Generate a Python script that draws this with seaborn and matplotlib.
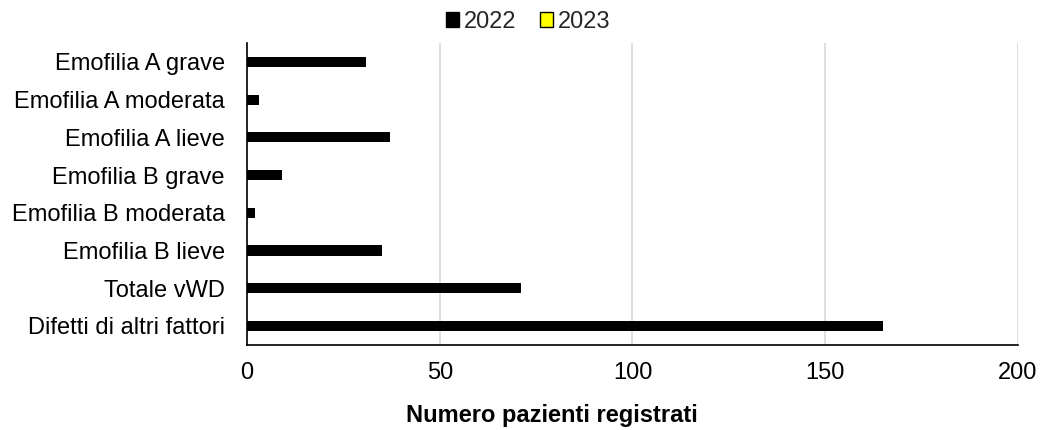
import matplotlib
matplotlib.use('Agg')
from matplotlib import pyplot as plt
from matplotlib.patches import Patch
import pandas as pd
import seaborn as sns

categories = ['Emofilia A grave', 'Emofilia A moderata', 'Emofilia A lieve',
              'Emofilia B grave', 'Emofilia B moderata', 'Emofilia B lieve',
              'Totale vWD', 'Difetti di altri fattori']
values_2022 = [31, 3, 37, 9, 2, 35, 71, 165]
values_2023 = [0, 0, 0, 0, 0, 0, 0, 0]
years = ['2022', '2023']
xticks = [0, 50, 100, 150, 200]

df = pd.concat([
    pd.DataFrame({'Categoria': categories, 'Pazienti': values_2022, 'Anno': years[0]}),
    pd.DataFrame({'Categoria': categories, 'Pazienti': values_2023, 'Anno': years[1]}),
])

sns.set_theme(style='white')
plt.rcParams['font.family'] = ['Liberation Sans', 'DejaVu Sans']

colors = {'2022': '#000000', '2023': '#FFFF00'}
fs = 17

fig = plt.figure(figsize=(10.4, 4.3), dpi=100)
ax = fig.add_axes([0.2375, 0.198, 0.7413, 0.702])

sns.barplot(data=df, x='Pazienti', y='Categoria', hue='Anno', order=categories,
            palette=colors, dodge=False, width=0.27, linewidth=0,
            legend=False, ax=ax)

ax.set_xlim(0, 200)
ax.set_xticks(xticks)
ax.set_ylim(len(categories) - 0.5, -0.5)
ax.xaxis.grid(True, color='#d9d9d9', linewidth=1.2)
ax.set_axisbelow(True)
for s in ['top', 'right']:
    ax.spines[s].set_visible(False)
for s in ['left', 'bottom']:
    ax.spines[s].set_color('black')
    ax.spines[s].set_linewidth(1.2)

ax.tick_params(axis='x', length=0, pad=12, labelsize=fs, colors='black')
ax.tick_params(axis='y', length=0, pad=16, labelsize=fs, colors='black')
ax.set_ylabel('')
ax.set_xlabel('Numero pazienti registrati', fontsize=fs, fontweight='bold', color='black')
ax.xaxis.set_label_coords(0.396, -0.195)

handles = [Patch(facecolor=colors[y], edgecolor='black', linewidth=1.0, label=y) for y in years]
fig.legend(handles=handles, loc='center', bbox_to_anchor=(0.508, 0.949), ncol=2,
           frameon=False, fontsize=fs, handlelength=0.55, handleheight=0.55,
           handletextpad=0.2, columnspacing=1.0, borderpad=0)

fig.savefig('out.png', dpi=100)
